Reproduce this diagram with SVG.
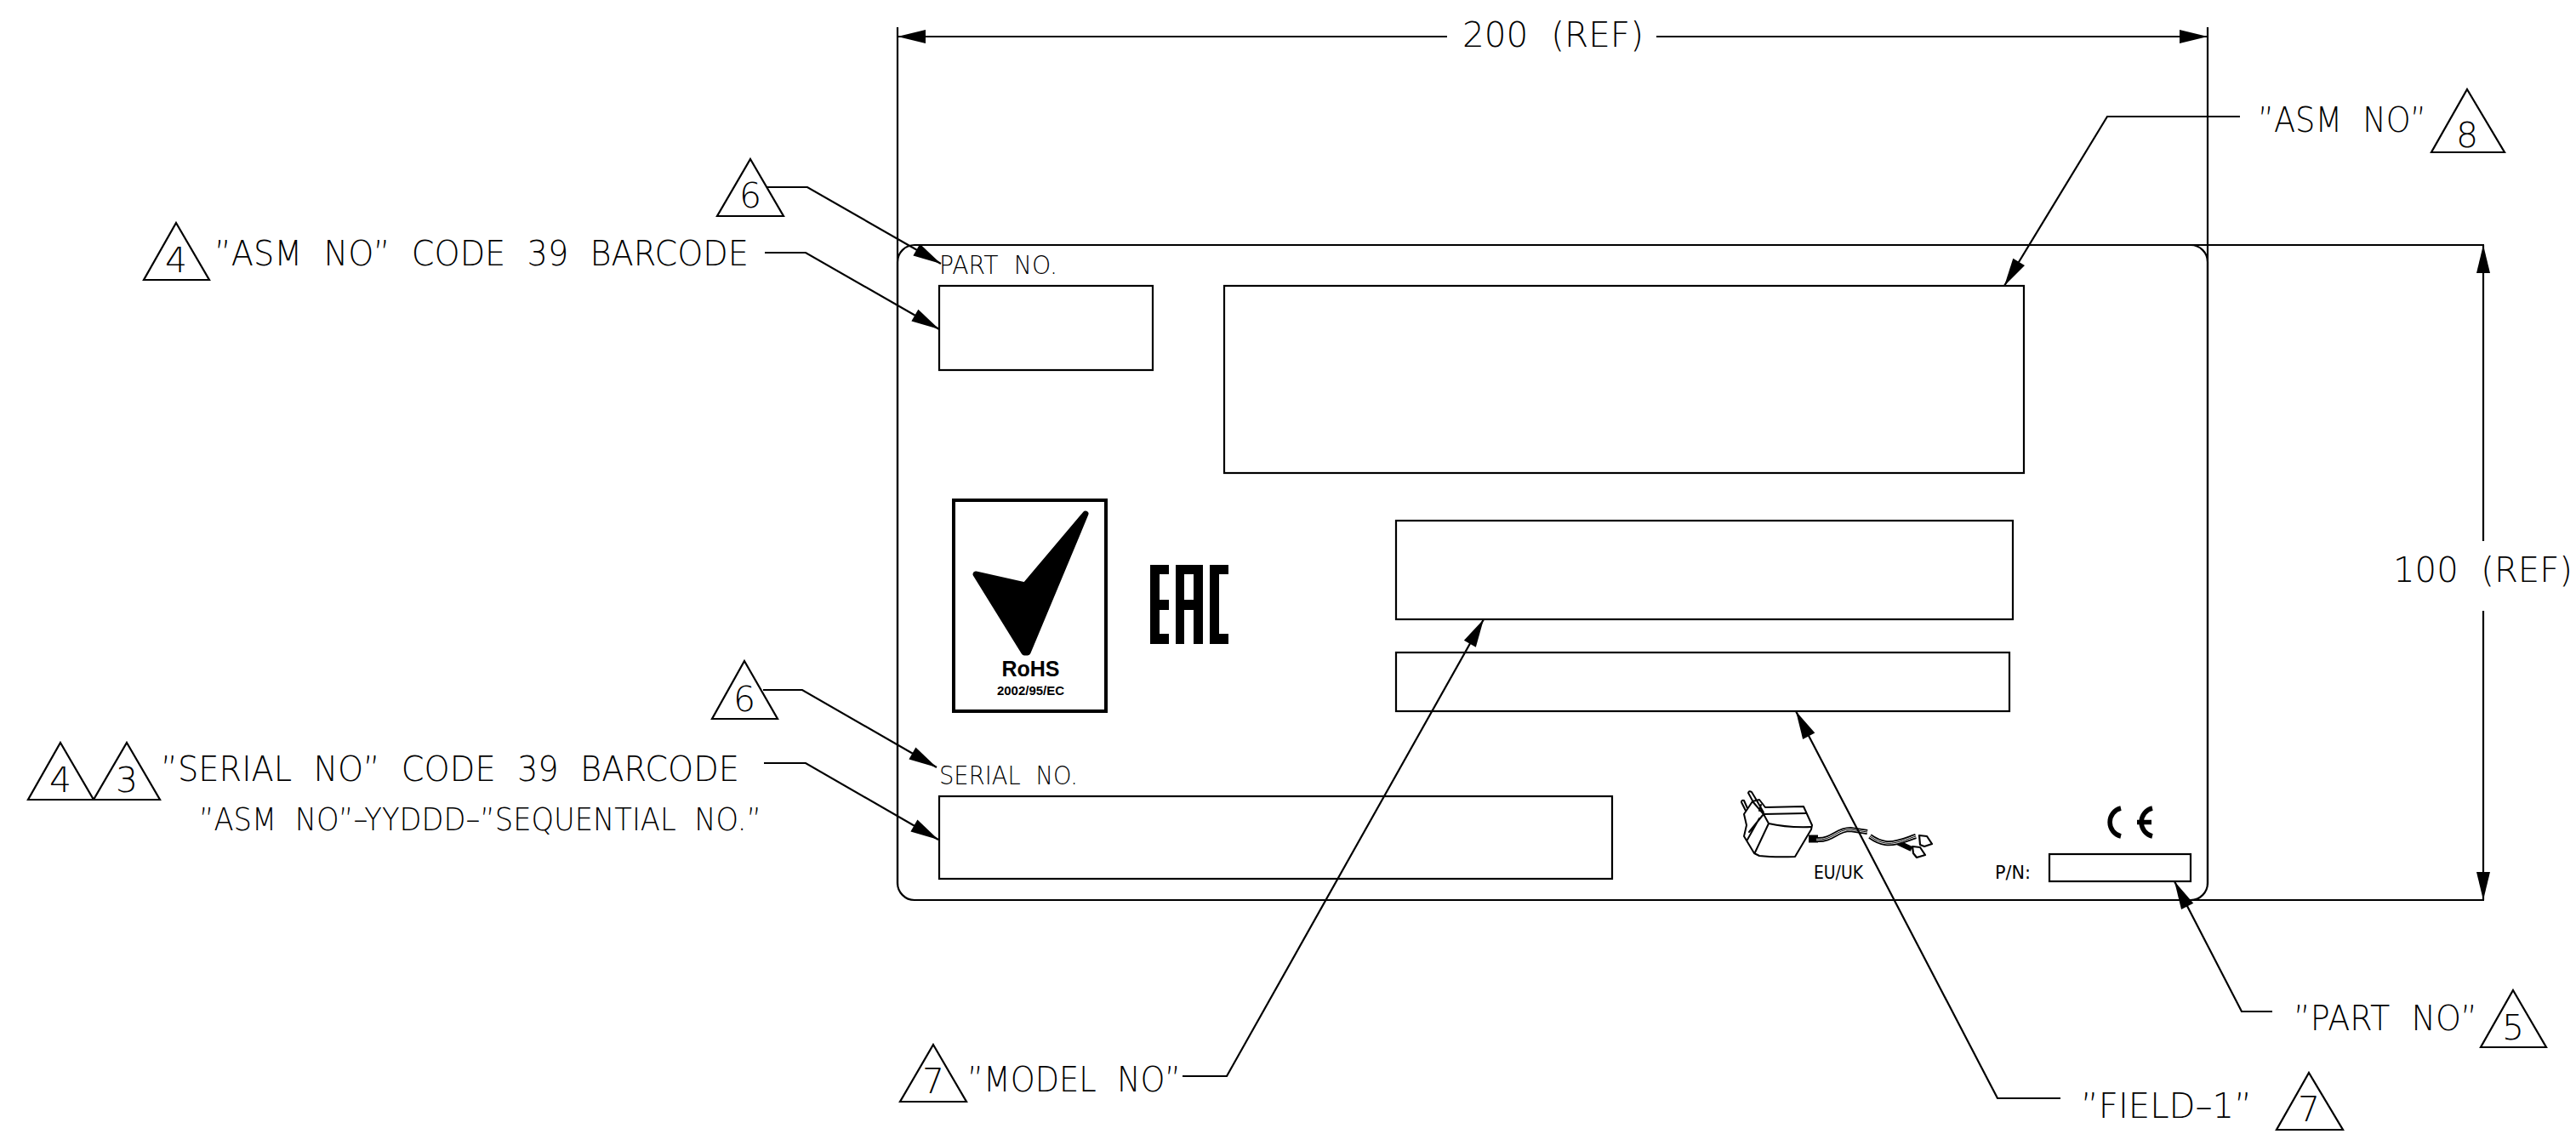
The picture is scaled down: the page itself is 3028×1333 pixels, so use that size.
<svg xmlns="http://www.w3.org/2000/svg" width="3028" height="1333" viewBox="0 0 3028 1333">
<style>
.l{fill:none;stroke:#000;stroke-width:2.2}
.t{font-family:"DejaVu Sans",sans-serif;font-weight:200;font-size:41px;fill:#000;word-spacing:14px}
.s{font-size:30px;word-spacing:10px}
.m{font-size:37px;word-spacing:12px}
.d{text-anchor:middle;word-spacing:0}
.n{font-family:"DejaVu Sans Condensed","DejaVu Sans",sans-serif;font-size:21px;fill:#000}
.b{font-family:"Liberation Sans",sans-serif;font-weight:700;fill:#000}
.k{fill:#000;stroke:none}
.i{fill:none;stroke:#000;stroke-width:2;stroke-linejoin:round;stroke-linecap:round}
.a{marker-end:url(#ah)}
</style>
<defs>
<marker id="ah" markerUnits="userSpaceOnUse" markerWidth="34" markerHeight="16" refX="33" refY="8" orient="auto" overflow="visible"><path d="M0 0L33 8L0 16z" fill="#000"/></marker>
</defs>
<rect width="3028" height="1333" fill="#fff"/>
<g id="label-outline">
<rect class="l" x="1055" y="288" width="1540" height="770" rx="20" ry="20"/>
</g>
<g id="field-part-barcode"><rect class="l" x="1104" y="336" width="251" height="99"/><text class="t s" x="1104" y="322" textLength="139" lengthAdjust="spacingAndGlyphs">PART NO.</text></g>
<g id="field-asm"><rect class="l" x="1439" y="336" width="940" height="220"/></g>
<g id="field-model"><rect class="l" x="1641" y="612" width="725" height="116"/></g>
<g id="field-1"><rect class="l" x="1641" y="767" width="721" height="69"/></g>
<g id="field-serial-barcode"><rect class="l" x="1104" y="936" width="791" height="97"/><text class="t s" x="1104" y="922" textLength="163" lengthAdjust="spacingAndGlyphs">SERIAL NO.</text></g>
<g id="field-pn"><rect class="l" x="2409" y="1004" width="166" height="32"/><text class="n" x="2345" y="1033" textLength="42" lengthAdjust="spacingAndGlyphs">P/N:</text></g>
<g id="rohs-mark">
<rect x="1121" y="588" width="179" height="248" fill="none" stroke="#000" stroke-width="4"/>
<path d="M1276 604L1205 688L1147 675L1204 767L1208 767Z" fill="#000" stroke="#000" stroke-width="7" stroke-linejoin="round"/>
<text class="b" x="1211.500" y="795" font-size="25" text-anchor="middle">RoHS</text>
<text class="b" x="1211.500" y="817" font-size="15" text-anchor="middle">2002/95/EC</text>
</g>
<g id="eac-mark">
<rect class="k" x="1352" y="664" width="11" height="93"/><rect class="k" x="1352" y="664" width="22" height="11"/><rect class="k" x="1352" y="705" width="22" height="12"/><rect class="k" x="1352" y="745" width="22" height="12"/>
<rect class="k" x="1382" y="664" width="10" height="93"/><rect class="k" x="1403" y="664" width="11" height="93"/><rect class="k" x="1382" y="664" width="32" height="11"/><rect class="k" x="1382" y="705" width="32" height="12"/>
<rect class="k" x="1422" y="664" width="11" height="93"/><rect class="k" x="1422" y="664" width="22" height="11"/><rect class="k" x="1422" y="745" width="22" height="12"/>
</g>
<g id="ce-mark">
<path d="M2493 950A17 17 0 0 0 2493 983" fill="none" stroke="#000" stroke-width="5.500"/>
<path d="M2530 950A17 17 0 0 0 2530 983M2512 966.500H2529" fill="none" stroke="#000" stroke-width="5.500"/>
</g>
<g id="adapter-icon">
<path class="i" d="M2075 949L2120 948L2130 970L2129 975L2110 1007Q2085 1008 2068 1006L2062 1003L2050 983L2053 970L2050 957L2060 942L2068 940L2075 949"/>
<path class="i" d="M2073 957L2123 956M2073 957L2079 968Q2100 973 2129 972M2079 968L2063 1002M2068 962L2054 987M2073 957L2056 978M2060 942L2073 957M2065 941L2073 955M2070 946L2068 953"/>
<path class="i" d="M2052 953L2047 943Q2047 940 2050 941L2054 950M2061 943L2055 932Q2056 929 2059 931L2065 941"/>
<path d="M2126 986H2137" fill="none" stroke="#000" stroke-width="9"/>
<path id="cable" d="M2135 987C2155 988 2158 975 2175 975L2195 978M2198 983C2212 993 2222 992 2230 990C2240 988 2245 985 2252 983M2230 990L2247 998" fill="none" stroke="#000" stroke-width="6"/>
<path d="M2135 987C2155 988 2158 975 2175 975L2195 978M2198 983C2212 993 2222 992 2230 990C2240 988 2245 985 2252 983" fill="none" stroke="#fff" stroke-width="2.500"/>
<path d="M2135 987C2155 988 2158 975 2175 975L2195 978M2198 983C2212 993 2222 992 2230 990C2240 988 2245 985 2252 983" fill="none" stroke="#000" stroke-width="1"/>
<path d="M2256 982L2265 983L2271 992L2262 995L2257 993ZM2248 995L2257 996L2263 1005L2253 1008L2249 1003Z" fill="#fff" stroke="#000" stroke-width="2.200" stroke-linejoin="round"/>
<text class="n" x="2132" y="1033" textLength="58" lengthAdjust="spacingAndGlyphs">EU/UK</text>
</g>
<g id="connectors">
<path class="l" d="M1055 32V1040M2595 32V1040"/>
<path class="l a" d="M1701 43H1055"/><path class="l a" d="M1947 43H2595"/>
<path class="l" d="M2575 288H2920M2575 1058H2920"/>
<path class="l a" d="M2919 636V288"/><path class="l a" d="M2919 718V1058"/>
<path class="l a" d="M901 220H949L1106 310"/>
<path class="l a" d="M899 297H947L1104 387"/>
<path class="l a" d="M897 811H943L1101 902"/>
<path class="l a" d="M898 897H947L1103 987"/>
<path class="l a" d="M2633 137H2477L2356 336"/>
<path class="l a" d="M1390 1265H1442L1744 728"/>
<path class="l a" d="M2422 1291H2348L2111 836"/>
<path class="l a" d="M2671 1189H2635L2556 1036"/>
</g>
<g id="dim-width"><text class="t" x="1719" y="55" textLength="213" lengthAdjust="spacingAndGlyphs">200 (REF)</text></g>
<g id="dim-height"><text class="t" x="2813" y="684" textLength="211" lengthAdjust="spacingAndGlyphs">100 (REF)</text></g>
<g id="note-asm-barcode">
<path class="l" d="M207 262L246 329H169Z"/><text class="t d" x="207" y="320">4</text>
<text class="t" x="252" y="312" textLength="628" lengthAdjust="spacingAndGlyphs">”ASM NO” CODE 39 BARCODE</text>
</g>
<g id="note-part-6"><path class="l" d="M882 187L921 254H843Z"/><text class="t d" x="882" y="244">6</text></g>
<g id="note-serial-6"><path class="l" d="M875 777L914 845H837Z"/><text class="t d" x="875" y="836">6</text></g>
<g id="note-serial-barcode">
<path class="l" d="M71 873L110 940H33Z"/><text class="t d" x="71" y="931">4</text>
<path class="l" d="M149 873L188 940H110Z"/><text class="t d" x="149" y="931">3</text>
<text class="t" x="189" y="918" textLength="680" lengthAdjust="spacingAndGlyphs">”SERIAL NO” CODE 39 BARCODE</text>
<text class="t m" x="234" y="976" textLength="661" lengthAdjust="spacingAndGlyphs">”ASM NO”–YYDDD–”SEQUENTIAL NO.”</text>
</g>
<g id="note-asm"><text class="t" x="2654" y="155" textLength="198" lengthAdjust="spacingAndGlyphs">”ASM NO”</text><path class="l" d="M2900 105L2944 179H2858Z"/><text class="t d" x="2900" y="173">8</text></g>
<g id="note-model"><path class="l" d="M1097 1228L1136 1295H1058Z"/><text class="t d" x="1097" y="1285">7</text><text class="t" x="1137" y="1283" textLength="251" lengthAdjust="spacingAndGlyphs">”MODEL NO”</text></g>
<g id="note-field"><text class="t" x="2446" y="1314" textLength="201" lengthAdjust="spacingAndGlyphs">”FIELD–1”</text><path class="l" d="M2714 1261L2754 1328H2676Z"/><text class="t d" x="2714" y="1318">7</text></g>
<g id="note-part"><text class="t" x="2696" y="1211" textLength="216" lengthAdjust="spacingAndGlyphs">”PART NO”</text><path class="l" d="M2954 1164L2993 1231H2916Z"/><text class="t d" x="2954" y="1222">5</text></g>
</svg>
